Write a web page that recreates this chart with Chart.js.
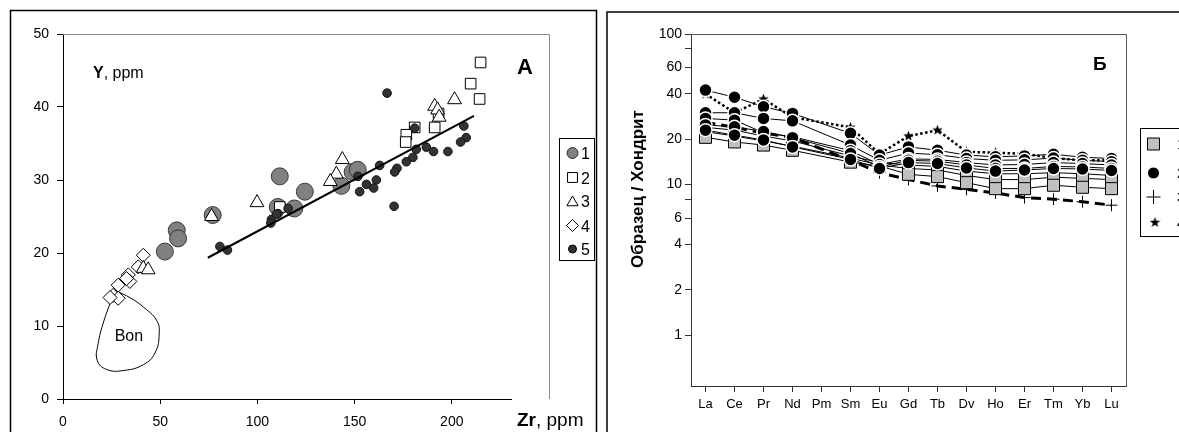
<!DOCTYPE html>
<html>
<head>
<meta charset="utf-8">
<script src="https://cdn.jsdelivr.net/npm/chart.js@4.4.1/dist/chart.umd.min.js"></script>
<style>
  html, body { margin: 0; padding: 0; background: #fff; }
  #wrapA { position: absolute; left: 0; top: 0; width: 600px; height: 432px; }
  #wrapB { position: absolute; left: 600px; top: 0; width: 579px; height: 432px; }
</style>
</head>
<body>
<div id="wrapA"><canvas id="zrY" width="600" height="432"></canvas></div>
<div id="wrapB"><canvas id="ree" width="579" height="432"></canvas></div>
<script>
//--------------------------------------------- data, panel A (Zr vs Y, ppm)
const group1 = [[52.4,20.2],[58.5,23.1],[59.2,22],[77,25.2],[111.5,30.5],[124.4,28.4],[110.5,26.3],[119,26.1],[143.2,29.2],[149,31.1],[151.6,31.4]];
const group2 = [[214.8,46.1],[209.7,43.2],[214.3,41.1],[180.9,37.2],[191.2,37.2],[176.6,36.2],[176.3,35.2],[193.2,39.1],[111.5,26.3]];
const group3 = [[201.4,41],[191.2,40.1],[192.7,39.6],[193.5,38.6],[143.7,32.8],[140.6,30.8],[137.5,29.8],[99.8,26.9],[76.4,25],[41.3,17.9],[43.8,17.7]];
const group4 = [[41.3,19.7],[38.7,18.1],[33.6,17],[34.4,16.1],[32.7,16.5],[28.4,15.6],[25.8,14.2],[28.4,13.8],[24.2,13.9]];
const group5 = [[166.7,41.9],[180.9,37.1],[206.2,37.4],[207.4,35.8],[204.5,35.2],[198,33.9],[190.6,33.9],[186.9,34.5],[181.7,34.2],[180,33.1],[176.6,32.5],[171.8,31.6],[170.6,31.1],[162.9,32],[161.2,30],[156.1,29.4],[159.8,28.9],[152.6,28.4],[151.7,30.5],[170.3,26.4],[115.8,26.1],[110.6,25.4],[107.2,24.6],[106.9,24.1],[109.8,25.3],[80.7,20.9],[84.6,20.4]];
const trendLine = [[74.5,19.35],[211.4,38.77]];
const bonField = [[26.7,14.9],[35,13.8],[41.3,12.6],[48.1,10.8],[49.5,9.0],[47.3,6.3],[41.3,4.7],[31,3.9],[22.4,4.05],[17.6,5.3],[18.1,7.6],[20.7,10.4],[24.2,13.1],[26.7,14.9]];
const legendA = ['1', '2', '3', '4', '5'];

//--------------------------------------------- data, panel B (REE / chondrite)
const elements = ['La','Ce','Pr','Nd','Pm','Sm','Eu','Gd','Tb','Dv','Ho','Er','Tm','Yb','Lu'];
const sq1 = [20.6,19.2,18.3,16.9,null,14.1,13.3,11.7,11.3,10.3,9.4,9.4,9.9,9.6,9.4];
const sq2 = [22.5,21,19.5,18,null,15,13.5,12.8,12.5,11.5,10.8,10.8,11.2,11,10.8];
const sq3 = [24,23,21,19.5,null,15.5,14,13.5,13.2,12.3,11.8,11.8,12,11.8,11.5];
const ci1 = [42.4,38,32.9,29.7,null,21.9,15.7,17.8,16.9,15.7,15.3,15.5,15.9,15.2,14.9];
const ci2 = [30,30,27.5,26.5,null,18.3,14.5,16.2,15.8,14.9,14.5,14.6,15,14.5,14.2];
const ci3 = [27.5,26.8,22.1,20.8,null,16.8,13.6,14.8,14.7,14,13.5,13.6,14,13.8,13.5];
const ci4 = [24.9,24.2,22.5,20.5,null,16.1,13.1,14.5,14.3,13.5,12.8,12.8,13.2,13.1,12.8];
const ci5 = [23,21.3,19.8,17.8,null,14.7,12.8,14,13.8,12.9,12.3,12.5,12.8,12.7,12.4];
const plusSample = [26,24,22,20.5,null,14.5,12,10.8,9.8,9.3,8.8,8.2,8.0,7.7,7.3];
const starSample = [40,30,37,28,null,24,16,21,23,16.5,16.3,16,15,14.5,14.5];
const yTicksB = [1,2,4,6,8,10,20,40,60,80,100];
const yLabelsB = [1,2,4,6,10,20,40,60,100];
const legendB = ['1', '2', '3', '4'];

const FONT = "'Liberation Sans', Arial, sans-serif";
Chart.defaults.font.family = FONT;
Chart.defaults.color = '#000';

function pts(arr) { return arr.map(p => ({x: p[0], y: p[1]})); }

function makeStar(size) {
  const c = document.createElement('canvas');
  c.width = size; c.height = size;
  const g = c.getContext('2d');
  const R = size / 2, r = R * 0.42;
  g.beginPath();
  for (let i = 0; i < 10; i++) {
    const a = -Math.PI / 2 + i * Math.PI / 5;
    const d = i % 2 ? r : R;
    g.lineTo(R + d * Math.cos(a), R + d * Math.sin(a));
  }
  g.closePath();
  g.fillStyle = '#000';
  g.fill();
  return c;
}
const starImg = makeStar(11);

function mark(ctx, style, x, y, r, fill, stroke, bw) {
  ctx.save();
  ctx.fillStyle = fill; ctx.strokeStyle = stroke; ctx.lineWidth = bw;
  Chart.helpers.drawPoint(ctx, {pointStyle: style, radius: r, rotation: 0, borderWidth: bw}, x, y);
  ctx.restore();
}

function mixed(ctx, x, y, parts) {
  for (const [txt, font] of parts) {
    ctx.font = font;
    ctx.fillText(txt, x, y);
    x += ctx.measureText(txt).width;
  }
}

//--------------------------------------------- panel A
const panelA = {
  id: 'panelA',
  beforeDatasetsDraw(chart) {
    const {ctx, chartArea: a} = chart;
    ctx.save();
    ctx.strokeStyle = '#8c8c8c'; ctx.lineWidth = 1;
    ctx.beginPath();
    ctx.moveTo(a.left, a.top + 0.5);
    ctx.lineTo(a.right + 0.5, a.top + 0.5);
    ctx.lineTo(a.right + 0.5, a.bottom);
    ctx.stroke();
    ctx.restore();
  },
  afterDraw(chart) {
    const {ctx, scales} = chart;
    ctx.save();
    // outer frame
    ctx.strokeStyle = '#000'; ctx.lineWidth = 1.5;
    ctx.beginPath();
    ctx.moveTo(10.5, 432); ctx.lineTo(10.5, 10.5); ctx.lineTo(596.5, 10.5); ctx.lineTo(596.5, 432);
    ctx.stroke();
    // axis titles
    ctx.fillStyle = '#fff';
    ctx.fillRect(512, 399, 83, 33);
    ctx.fillStyle = '#000';
    ctx.textBaseline = 'alphabetic';
    mixed(ctx, 517, 426, [['Zr', 'bold 19px ' + FONT], [', ppm', '19px ' + FONT]]);
    mixed(ctx, 93, 78, [['Y', 'bold 16px ' + FONT], [', ppm', '16px ' + FONT]]);
    ctx.font = 'bold 22px ' + FONT;
    ctx.fillText('A', 517, 74);
    ctx.font = '16px ' + FONT;
    ctx.textAlign = 'center';
    ctx.fillText('Bon', scales.x.getPixelForValue(33.9), scales.y.getPixelForValue(8.8) + 6);
    // legend
    ctx.textAlign = 'left';
    ctx.strokeStyle = '#000'; ctx.lineWidth = 1;
    ctx.strokeRect(559.5, 138.5, 35, 122);
    const ys = [153, 177.5, 201, 225.5, 249];
    mark(ctx, 'circle', 572.5, ys[0], 5.5, '#808080', '#333', 1);
    mark(ctx, 'rect', 572.5, ys[1], 7, '#fff', '#000', 1);
    mark(ctx, 'triangle', 572.5, ys[2] + 1.5, 6.5, '#fff', '#000', 1);
    mark(ctx, 'rectRot', 572.5, ys[3], 6, '#fff', '#000', 1);
    mark(ctx, 'circle', 572.5, ys[4], 4, '#333', '#000', 1);
    ctx.font = '16px ' + FONT;
    ctx.fillStyle = '#000';
    legendA.forEach((t, i) => ctx.fillText(t, 581, ys[i] + 6));
    ctx.restore();
  }
};

const chartA = new Chart(document.getElementById('zrY'), {
  type: 'scatter',
  data: {
    datasets: [
      { data: pts(bonField), showLine: true, tension: 0.45, borderColor: '#000', borderWidth: 1, pointRadius: 0, fill: false, order: 9 },
      { data: pts(group1), pointStyle: 'circle', pointRadius: 8.5, backgroundColor: '#808080', borderColor: '#3a3a3a', borderWidth: 1, order: 6 },
      { data: pts(group2), pointStyle: 'rect', pointRadius: 7.5, backgroundColor: '#fff', borderColor: '#000', borderWidth: 1, order: 5 },
      { data: pts(group3), pointStyle: 'triangle', pointRadius: 8, backgroundColor: '#fff', borderColor: '#000', borderWidth: 1, order: 4 },
      { data: pts(group4), pointStyle: 'rectRot', pointRadius: 7, backgroundColor: '#fff', borderColor: '#000', borderWidth: 1, order: 7 },
      { data: pts(group5), pointStyle: 'circle', pointRadius: 4.3, backgroundColor: '#333', borderColor: '#111', borderWidth: 1, order: 3 },
      { data: pts(trendLine), showLine: true, borderColor: '#000', borderWidth: 2, pointRadius: 0, order: 1 }
    ]
  },
  options: {
    responsive: false,
    animation: false,
    events: [],
    layout: { padding: { left: 0, top: 34, right: 51, bottom: 0 } },
    plugins: { legend: { display: false }, tooltip: { enabled: false } },
    scales: {
      x: {
        type: 'linear', min: 0, max: 250,
        afterFit: s => { s.height = 33; },
        ticks: { stepSize: 50, padding: 10, font: { size: 14 }, callback: v => v > 200 ? '' : v },
        grid: { drawOnChartArea: false, tickLength: 5, color: '#000' },
        border: { color: '#000', width: 1 }
      },
      y: {
        min: 0, max: 50,
        afterFit: s => { s.width = 63; },
        ticks: { stepSize: 10, padding: 8, font: { size: 14 } },
        grid: { drawOnChartArea: false, tickLength: 6, color: '#000' },
        border: { color: '#000', width: 1 }
      }
    }
  },
  plugins: [panelA]
});

//--------------------------------------------- panel B
const panelB = {
  id: 'panelB',
  beforeDatasetsDraw(chart) {
    const {ctx, chartArea: a} = chart;
    ctx.save();
    ctx.strokeStyle = '#555'; ctx.lineWidth = 1;
    ctx.beginPath();
    ctx.moveTo(a.left, a.top + 0.5);
    ctx.lineTo(a.right + 0.5, a.top + 0.5);
    ctx.lineTo(a.right + 0.5, a.bottom);
    ctx.stroke();
    ctx.restore();
  },
  afterDraw(chart) {
    const {ctx} = chart;
    ctx.save();
    ctx.strokeStyle = '#000'; ctx.lineWidth = 1.5;
    ctx.beginPath();
    ctx.moveTo(7, 432); ctx.lineTo(7, 12); ctx.lineTo(579, 12);
    ctx.stroke();
    ctx.fillStyle = '#000';
    ctx.font = 'bold 19px ' + FONT;
    ctx.fillText('Б', 493, 70);
    // y title
    ctx.save();
    ctx.translate(43, 189);
    ctx.rotate(-Math.PI / 2);
    ctx.textAlign = 'center';
    ctx.font = 'bold 17px ' + FONT;
    ctx.fillText('Образец / Хондрит', 0, 0);
    ctx.restore();
    // legend
    ctx.lineWidth = 1;
    ctx.strokeRect(540.5, 128.5, 60, 108);
    const ys = [144, 173, 197, 222.5];
    mark(ctx, 'rect', 553.5, ys[0], 8.5, '#c0c0c0', '#000', 1);
    mark(ctx, 'circle', 553.5, ys[1], 6, '#000', '#fff', 1);
    mark(ctx, 'cross', 553.5, ys[2], 7, '#000', '#000', 1);
    mark(ctx, starImg, 555, ys[3], 5, '#000', '#000', 0);
    ctx.font = '14px ' + FONT;
    legendB.forEach((t, i) => ctx.fillText(t, 577, ys[i] + 5));
    ctx.restore();
  }
};

function squareSet(d) {
  return { data: d, spanGaps: true, borderColor: '#000', borderWidth: 1, pointStyle: 'rect', pointRadius: 8.5,
           pointBackgroundColor: '#c0c0c0', pointBorderColor: '#000', pointBorderWidth: 1, order: 3 };
}
function circleSet(d) {
  return { data: d, spanGaps: true, borderColor: '#000', borderWidth: 1, pointStyle: 'circle', pointRadius: 6.5,
           pointBackgroundColor: '#000', pointBorderColor: '#fff', pointBorderWidth: 1.5, order: 2 };
}

const chartB = new Chart(document.getElementById('ree'), {
  type: 'line',
  data: {
    labels: elements,
    datasets: [
      { data: plusSample, spanGaps: true, borderColor: '#000', borderWidth: 3, borderDash: [10, 6], pointStyle: 'cross',
        pointRadius: 6, pointBorderColor: '#000', pointBorderWidth: 1, order: 5 },
      { data: starSample, spanGaps: true, borderColor: '#000', borderWidth: 2.5, borderDash: [2.5, 2.5], pointStyle: starImg,
        pointRadius: 5, order: 4 },
      squareSet(sq1), squareSet(sq2), squareSet(sq3),
      circleSet(ci5), circleSet(ci4), circleSet(ci3), circleSet(ci2), circleSet(ci1)
    ]
  },
  options: {
    responsive: false,
    animation: false,
    events: [],
    layout: { padding: { left: 0, top: 34, right: 53, bottom: 0 } },
    plugins: { legend: { display: false }, tooltip: { enabled: false } },
    scales: {
      x: {
        type: 'category', offset: true,
        afterFit: s => { s.height = 46; },
        ticks: { padding: 5, font: { size: 13 }, autoSkip: false, maxRotation: 0 },
        grid: { offset: false, drawOnChartArea: false, tickLength: 6, color: '#333' },
        border: { color: '#333', width: 1 }
      },
      y: {
        type: 'logarithmic', min: 0.46, max: 100,
        afterFit: s => { s.width = 91; },
        afterBuildTicks: s => { s.ticks = yTicksB.map(v => ({ value: v })); },
        ticks: { padding: 3, font: { size: 14 }, callback: v => yLabelsB.includes(v) ? String(v) : '' },
        grid: { drawOnChartArea: false, tickLength: 6, color: '#333' },
        border: { color: '#333', width: 1 }
      }
    }
  },
  plugins: [panelB]
});
</script>
</body>
</html>
